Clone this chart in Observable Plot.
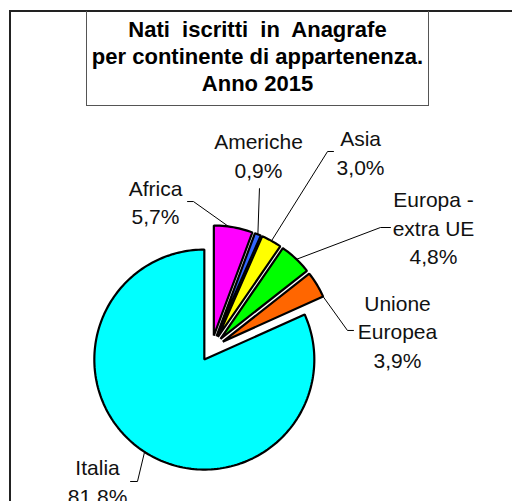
<!DOCTYPE html>
<html><head><meta charset="utf-8">
<script src="https://cdn.jsdelivr.net/npm/d3@7"></script>
<script src="https://cdn.jsdelivr.net/npm/@observablehq/plot@0.6"></script>
<style>
body{margin:0;background:#fff;}
#wrap{position:relative;width:512px;height:501px;overflow:hidden;font-family:"Liberation Sans",Arial,sans-serif;background:#fff;}
#wrap svg{position:absolute;left:0;top:0;}
#frame{position:absolute;left:9px;top:10px;width:600px;height:600px;border:2px solid #222;}
#tbox{position:absolute;left:86px;top:11px;width:341px;height:94px;border:1px solid #555;border-top:none;}
#title{position:absolute;left:86px;top:16px;width:343px;text-align:center;font-weight:bold;font-size:22px;line-height:27px;color:#000;}
</style></head>
<body>
<div id="wrap">
  <div id="frame"></div>
  <div id="tbox"></div>
  <div id="title">Nati&nbsp; iscritti&nbsp; in&nbsp; Anagrafe<br>per continente di appartenenza.<br>Anno 2015</div>
</div>
<script>
// Data
const categories = ["Africa", "Americhe", "Asia", "Europa - extra UE", "Unione Europea", "Italia"];
const shares = [5.7, 0.9, 3.0, 4.8, 3.9, 81.8];
const labelNames = ["Africa", "Americhe", "Asia", "Europa -\nextra UE", "Unione\nEuropea", "Italia"];
const pctLabels = ["5,7%", "0,9%", "3,0%", "4,8%", "3,9%", "81.8%"];
const colors = ["#ff00ff", "#3366ff", "#ffff00", "#00ff00", "#ff6600", "#00ffff"];

// Layout (in pie-radius units, centre = 0,0)
const explode = 0.12;
const labelPos = [[-0.509, 1.341], [0.427, 1.764], [1.355, 1.791], [2.018, 1.109], [1.691, 0.168], [-1.036, -1.2]];
const leaderElbows = [
  [[-0.218, 1.336], [-0.164, 1.336]],
  [[0.436, 1.455], [0.436, 1.455]],
  [[1.109, 1.791], [1.055, 1.791]],
  [[1.627, 1.100], [1.536, 1.100]],
  [[1.291, 0.164], [1.236, 0.164]],
  [[-0.736, -1.209], [-0.673, -1.209]]
];
const leaderT = [0.375, 0.5, 0.5, 0.53, 1.0, 0.5];

const arcs = d3.pie().sort(null).value(d => d)(shares);
const slices = arcs.map((a, i) => {
  const m = (a.startAngle + a.endAngle) / 2;
  const ox = explode * Math.sin(m), oy = explode * Math.cos(m);
  const n = Math.max(2, Math.ceil((a.endAngle - a.startAngle) / (Math.PI / 120)));
  const pts = [{x: ox, y: oy}];
  for (let k = 0; k <= n; k++) {
    const t = a.startAngle + (a.endAngle - a.startAngle) * k / n;
    pts.push({x: ox + Math.sin(t), y: oy + Math.cos(t)});
  }
  const ta = a.startAngle + (a.endAngle - a.startAngle) * leaderT[i];
  const leader = [
    {name: categories[i], x: leaderElbows[i][0][0], y: leaderElbows[i][0][1]},
    {name: categories[i], x: leaderElbows[i][1][0], y: leaderElbows[i][1][1]},
    {name: categories[i], x: ox + Math.sin(ta), y: oy + Math.cos(ta)}
  ];
  return {name: categories[i], color: colors[i], pts, leader};
});

const labels = categories.map((c, i) => ({
  x: labelPos[i][0], y: labelPos[i][1], text: labelNames[i] + "\n" + pctLabels[i]
}));

const chart = Plot.plot({
  width: 512, height: 501, margin: 0,
  x: {domain: [-1, 1], range: [101, 321], axis: null},
  y: {domain: [-1, 1], range: [458, 238], axis: null},
  style: {background: "none", fontFamily: "Liberation Sans, Arial, sans-serif", overflow: "visible"},
  marks: [
    ...slices.map(s => Plot.line(s.pts, {x: "x", y: "y", fill: s.color, stroke: "#000", strokeWidth: 2.2, curve: "linear-closed", strokeLinejoin: "miter"})),
    Plot.line(slices.flatMap(s => s.leader), {x: "x", y: "y", z: "name", stroke: "#000", strokeWidth: 1}),
    Plot.text(labels, {x: "x", y: "y", text: "text", fontSize: 21, lineHeight: 1.36, fill: "#111", textAnchor: "middle"})
  ]
});
document.getElementById("wrap").prepend(chart);
</script>
</body></html>
